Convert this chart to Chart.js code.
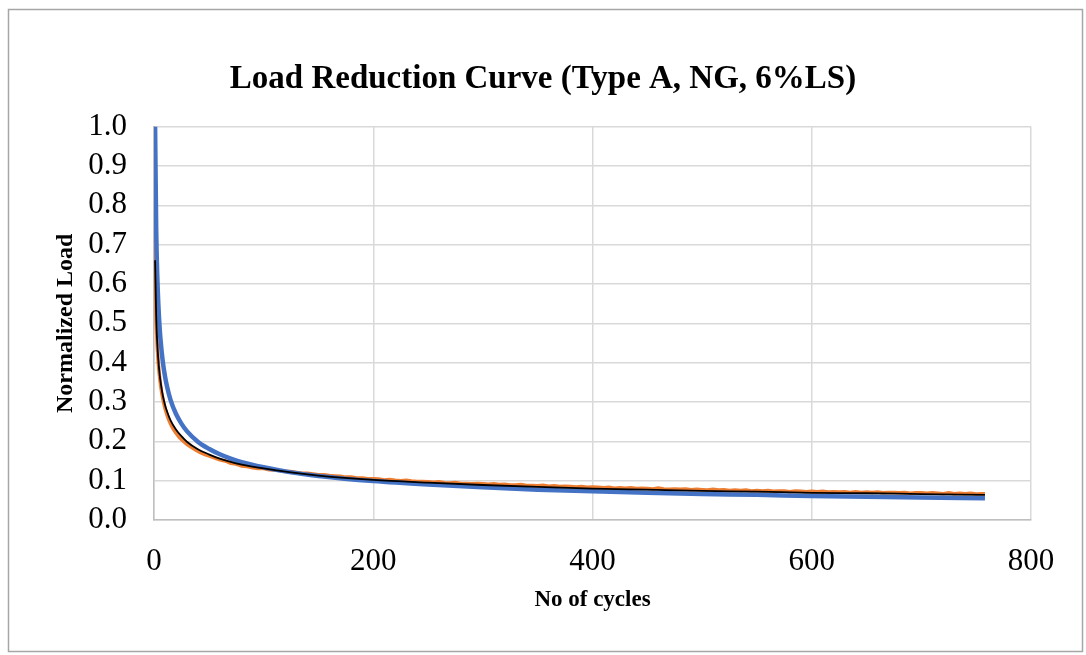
<!DOCTYPE html>
<html>
<head>
<meta charset="utf-8">
<title>Load Reduction Curve</title>
<script src="https://cdn.jsdelivr.net/npm/chart.js@4.4.0/dist/chart.umd.min.js"></script>
<style>
  html, body { margin: 0; padding: 0; background: #fff; }
  #chart { display: block; }
</style>
</head>
<body>
<canvas id="chart" width="1086" height="655"></canvas>
<script>
// measured load, normalized to the first cycle
const measuredCycles = [
  0, 1, 2, 3, 4, 5, 6, 7, 8, 9, 10, 12, 14, 16, 18, 20, 23, 26, 30, 34, 38, 42, 46, 50,
  55, 60, 65, 70, 75, 80, 85, 90, 95,
  100, 105, 110, 115, 120, 125, 130, 135, 140, 145,
  150, 155, 160, 165, 170, 175, 180, 185, 190, 195,
  200, 205, 210, 215, 220, 225, 230, 235, 240, 245,
  250, 255, 260, 265, 270, 275, 280, 285, 290, 295,
  300, 305, 310, 315, 320, 325, 330, 335, 340, 345,
  350, 355, 360, 365, 370, 375, 380, 385, 390, 395,
  400, 405, 410, 415, 420, 425, 430, 435, 440, 445,
  450, 455, 460, 465, 470, 475, 480, 485, 490, 495,
  500, 505, 510, 515, 520, 525, 530, 535, 540, 545,
  550, 555, 560, 565, 570, 575, 580, 585, 590, 595,
  600, 605, 610, 615, 620, 625, 630, 635, 640, 645,
  650, 655, 660, 665, 670, 675, 680, 685, 690, 695,
  700, 705, 710, 715, 720, 725, 730, 735, 740, 745,
  750, 755, 758,
];
const measuredLoad = [
  1.000, 0.640, 0.505, 0.438, 0.396, 0.366, 0.343, 0.324, 0.309, 0.296, 0.284, 0.266,
  0.251, 0.239, 0.229, 0.221, 0.210, 0.202, 0.192, 0.185, 0.178, 0.172, 0.167, 0.163,
  0.158, 0.153, 0.150, 0.144, 0.142, 0.137, 0.136, 0.133, 0.131,
  0.131, 0.128, 0.127, 0.126, 0.123, 0.123, 0.121, 0.119, 0.119, 0.117,
  0.115, 0.115, 0.113, 0.112, 0.111, 0.109, 0.109, 0.107, 0.107, 0.105,
  0.105, 0.104, 0.102, 0.103, 0.101, 0.100, 0.101, 0.099, 0.098, 0.098,
  0.097, 0.096, 0.097, 0.095, 0.094, 0.095, 0.093, 0.093, 0.092, 0.093,
  0.092, 0.091, 0.092, 0.090, 0.091, 0.089, 0.089, 0.090, 0.088, 0.088,
  0.087, 0.088, 0.086, 0.087, 0.085, 0.086, 0.085, 0.084, 0.085, 0.083,
  0.084, 0.083, 0.082, 0.083, 0.081, 0.082, 0.081, 0.082, 0.080, 0.081,
  0.080, 0.079, 0.081, 0.079, 0.078, 0.079, 0.078, 0.079, 0.077, 0.078,
  0.077, 0.076, 0.078, 0.076, 0.077, 0.075, 0.076, 0.075, 0.076, 0.074,
  0.075, 0.074, 0.075, 0.073, 0.074, 0.074, 0.072, 0.074, 0.073, 0.072,
  0.073, 0.072, 0.073, 0.071, 0.072, 0.071, 0.072, 0.070, 0.072, 0.070,
  0.071, 0.070, 0.071, 0.069, 0.070, 0.070, 0.069, 0.070, 0.068, 0.069,
  0.069, 0.068, 0.069, 0.068, 0.067, 0.069, 0.067, 0.068, 0.067, 0.068,
  0.066, 0.067, 0.067,
];

// fitted curves share the same cycle points
const fitCycles = [1, 2, 3, 4, 5, 6, 8, 10, 12, 15, 20, 25, 30, 40, 50, 60, 70, 80,
  100, 125, 150, 200, 250, 300, 350, 400, 450, 500, 550, 600, 650, 700, 758];
const fitBlack = [0.660, 0.517, 0.448, 0.405, 0.374, 0.351, 0.317, 0.293, 0.275, 0.254,
  0.230, 0.213, 0.199, 0.180, 0.167, 0.156, 0.148, 0.141, 0.131, 0.121, 0.113, 0.102,
  0.095, 0.089, 0.084, 0.080, 0.077, 0.074, 0.072, 0.069, 0.068, 0.066, 0.064];
const fitBlue = [1.000, 0.739, 0.619, 0.546, 0.495, 0.457, 0.403, 0.366, 0.338, 0.306,
  0.270, 0.245, 0.226, 0.199, 0.181, 0.167, 0.156, 0.147, 0.134, 0.121, 0.112, 0.099,
  0.090, 0.083, 0.077, 0.073, 0.069, 0.066, 0.064, 0.061, 0.059, 0.057, 0.055];

const xTicks = [0, 200, 400, 600, 800];
const yTicks = [0, 0.1, 0.2, 0.3, 0.4, 0.5, 0.6, 0.7, 0.8, 0.9, 1.0];

const serif = '"Liberation Serif", "Times New Roman", serif';

const toPoints = (xs, ys) => xs.map((x, i) => ({ x: x, y: ys[i] }));

// white page with the thin grey frame round the whole chart
const frame = {
  id: 'frame',
  beforeDraw(chart) {
    const ctx = chart.ctx;
    ctx.save();
    ctx.fillStyle = '#fff';
    ctx.fillRect(0, 0, chart.width, chart.height);
    ctx.strokeStyle = '#a6a6a6';
    ctx.lineWidth = 1.5;
    ctx.strokeRect(8.5, 9.5, 1074, 642);
    ctx.restore();
  },
};

const chartElement = document.querySelector('#chart').getContext('2d');

new Chart(chartElement, {
  type: 'line',
  data: {
    datasets: [
      {
        label: 'Measured',
        data: toPoints(measuredCycles, measuredLoad),
        borderColor: '#ED7D31',
        borderWidth: 3.5,
        pointRadius: 0,
        tension: 0,
        order: 3,
      },
      {
        label: 'Fit A',
        data: toPoints(fitCycles, fitBlue),
        borderColor: '#4472C4',
        borderWidth: 4.5,
        pointRadius: 0,
        cubicInterpolationMode: 'monotone',
        order: 2,
      },
      {
        label: 'Fit B',
        data: toPoints(fitCycles, fitBlack),
        borderColor: '#000',
        borderWidth: 1.8,
        pointRadius: 0,
        cubicInterpolationMode: 'monotone',
        order: 1,
      },
    ],
  },
  options: {
    responsive: false,
    animation: false,
    devicePixelRatio: 1,
    layout: {
      padding: { top: 10, right: 0, bottom: 0, left: 0 },
    },
    plugins: {
      legend: { display: false },
      tooltip: { enabled: false },
      title: {
        display: true,
        text: 'Load Reduction Curve (Type A, NG, 6%LS)',
        color: '#000',
        font: { family: serif, size: 33, weight: 'bold' },
        padding: { top: 50, bottom: 27 },
      },
    },
    scales: {
      x: {
        type: 'linear',
        min: 0,
        max: 800,
        afterBuildTicks: (scale) => {
          scale.ticks = xTicks.map((v) => ({ value: v }));
        },
        afterFit: (scale) => {
          scale.height = 135;
        },
        ticks: {
          color: '#000',
          padding: 23,
          autoSkip: false,
          maxRotation: 0,
          font: { family: serif, size: 31 },
        },
        grid: { color: '#d9d9d9', lineWidth: 1.5, drawTicks: false },
        border: { color: '#bfbfbf', width: 1.5 },
        title: {
          display: true,
          text: 'No of cycles',
          color: '#000',
          font: { family: serif, size: 23, weight: 'bold' },
          padding: { top: 0, bottom: 41 },
        },
      },
      y: {
        type: 'linear',
        min: 0,
        max: 1,
        afterBuildTicks: (scale) => {
          scale.ticks = yTicks.map((v) => ({ value: v }));
        },
        afterFit: (scale) => {
          scale.width = 154;
        },
        ticks: {
          color: '#000',
          padding: 27,
          autoSkip: false,
          font: { family: serif, size: 31 },
          callback: (value) => Number(value).toFixed(1),
        },
        grid: { color: '#d9d9d9', lineWidth: 1.5, drawTicks: false },
        border: { color: '#bfbfbf', width: 1.5 },
        title: {
          display: true,
          text: 'Normalized Load',
          color: '#000',
          font: { family: serif, size: 24, weight: 'bold' },
          padding: { top: 51, bottom: 0 },
        },
      },
      // empty right-hand axis, only reserves the margin right of the plot
      yRight: {
        type: 'linear',
        position: 'right',
        min: 0,
        max: 1,
        grid: { display: false, drawTicks: false },
        border: { display: false },
        ticks: { display: false },
        afterFit: (scale) => {
          scale.width = 55;
        },
      },
    },
  },
  plugins: [frame],
});
</script>
</body>
</html>
